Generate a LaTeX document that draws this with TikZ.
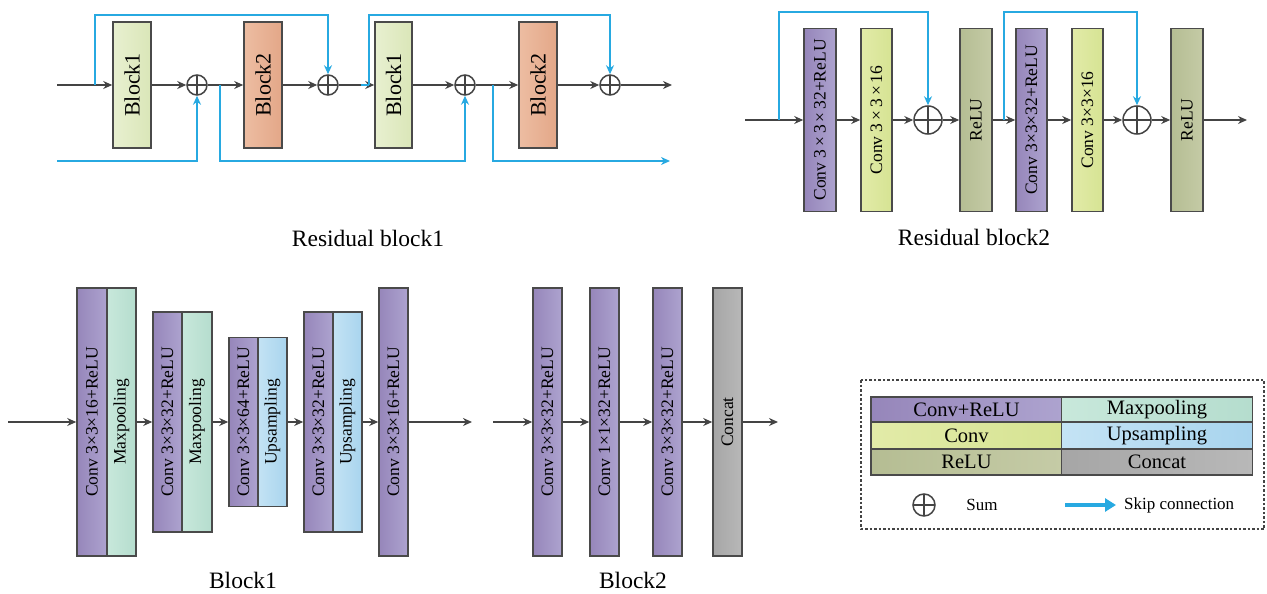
\documentclass[tikz,border=0pt]{standalone}
\usepackage{fontspec}
\setmainfont{Liberation Serif}
\usetikzlibrary{arrows.meta}

\definecolor{linec}{HTML}{444444}
\definecolor{boxc}{HTML}{4A4A4A}
\definecolor{skipc}{HTML}{27A9E1}
\definecolor{purpL}{HTML}{9686BA}
\definecolor{purpR}{HTML}{ADA3CF}
\definecolor{tealL}{HTML}{C8E8DB}
\definecolor{tealR}{HTML}{B5DDCE}
\definecolor{upL}{HTML}{C4E3F4}
\definecolor{upR}{HTML}{A8D4EE}
\definecolor{cnvL}{HTML}{E2EBA8}
\definecolor{cnvR}{HTML}{D6E393}
\definecolor{reluL}{HTML}{B5BD93}
\definecolor{reluR}{HTML}{C5CBA6}
\definecolor{catL}{HTML}{A6A6A6}
\definecolor{catR}{HTML}{B8B8B8}
\definecolor{bkaL}{HTML}{E8F0D0}
\definecolor{bkaR}{HTML}{DAE6B8}
\definecolor{bkbL}{HTML}{EDBDA2}
\definecolor{bkbR}{HTML}{E3A788}

\tikzset{
  blk/.style={draw=boxc, line width=1.6pt, inner sep=0pt, text=black,
    font=\fontsize{17.5}{17.5}\selectfont},
  purp/.style={blk, left color=purpL, right color=purpR},
  teal/.style={blk, left color=tealL, right color=tealR},
  upbox/.style={blk, left color=upL, right color=upR},
  cnv/.style={blk, left color=cnvL, right color=cnvR},
  relu/.style={blk, left color=reluL, right color=reluR},
  cat/.style={blk, left color=catL, right color=catR},
  bka/.style={blk, left color=bkaL, right color=bkaR, font=\fontsize{22}{22}\selectfont},
  bkb/.style={blk, left color=bkbL, right color=bkbR, font=\fontsize{22}{22}\selectfont},
  arr/.style={draw=linec, line width=1.7pt, -{Stealth[length=9pt,width=8pt]}},
  skip/.style={draw=skipc, line width=2.2pt},
  skiparr/.style={skip, -{Stealth[length=9pt,width=8pt]}},
  sumnode/.style={circle, draw=linec, line width=1.5pt, inner sep=0pt, minimum size=#1,
    path picture={\draw[linec, line width=1.3pt]
      (path picture bounding box.north) -- (path picture bounding box.south)
      (path picture bounding box.west) -- (path picture bounding box.east);}},
  caption/.style={font=\fontsize{23.5}{24}\selectfont, inner sep=0pt},
  legcell/.style={draw=boxc, line width=1.5pt, inner sep=0pt, minimum width=191,
    font=\fontsize{20.5}{21}\selectfont},
  legtext/.style={font=\fontsize{17}{17}\selectfont, inner sep=0pt},
}

\begin{document}
\begin{tikzpicture}[x=1pt, y=-1pt]
\useasboundingbox (0,0) rectangle (1267,594);

% ---------------- Residual block 1 ----------------
\coordinate (ra-in) at (57,85);
\node[bka, minimum width=38, minimum height=126] (ra-b1) at (132,85) {\rotatebox{90}{Block1}};
\node[sumnode=20] (ra-s1) at (197,85) {};
\node[bkb, minimum width=38, minimum height=126] (ra-b2) at (263,85) {\rotatebox{90}{Block2}};
\node[sumnode=20] (ra-s2) at (328,85) {};
\node[bka, minimum width=37, minimum height=126] (ra-b3) at (393.5,85) {\rotatebox{90}{Block1}};
\node[sumnode=20] (ra-s3) at (465,85) {};
\node[bkb, minimum width=38, minimum height=126] (ra-b4) at (538,85) {\rotatebox{90}{Block2}};
\node[sumnode=20] (ra-s4) at (610,85) {};
\coordinate (ra-out) at (672,85);

\draw[arr] (ra-in) -- (ra-b1.west);
\draw[arr] (ra-b1.east) -- (ra-s1.west);
\draw[arr] (ra-s1.east) -- (ra-b2.west);
\draw[arr] (ra-b2.east) -- (ra-s2.west);
\draw[arr] (ra-s2.east) -- (ra-b3.west);
\draw[arr] (ra-b3.east) -- (ra-s3.west);
\draw[arr] (ra-s3.east) -- (ra-b4.west);
\draw[arr] (ra-b4.east) -- (ra-s4.west);
\draw[arr] (ra-s4.east) -- (ra-out);

% skip connections over the blocks
\coordinate (ra-k1) at (95,85);
\coordinate (ra-k2a) at (361,85);
\coordinate (ra-k2) at (369,85);
\draw[skiparr] (ra-k1) -- (95,15) -| (ra-s2.north);
\draw[skip] (ra-k2a) -- (ra-k2);
\draw[skiparr] (ra-k2) -- (369,15) -| (ra-s4.north);

% lower skip paths
\coordinate (ra-l0) at (57,161);
\coordinate (ra-k3) at (220,85);
\coordinate (ra-k4) at (493,85);
\coordinate (ra-lout) at (670,161);
\draw[skiparr] (ra-l0) -| (ra-s1.south);
\draw[skiparr] (ra-k3) |- (300,161) -| (ra-s3.south);
\draw[skiparr] (ra-k4) |- (ra-lout);

\node[caption] (ra-cap) at (368,238) {Residual block1};

% ---------------- Residual block 2 ----------------
\coordinate (rb-in) at (745,120);
\node[purp, minimum width=32, minimum height=183] (rb-c1) at (820,120)
  {\rotatebox{90}{Conv 3\,×\,3\,×\,32+ReLU}};
\node[cnv, minimum width=31, minimum height=183] (rb-c2) at (876.5,120)
  {\rotatebox{90}{Conv 3\,×\,3\,×\,16}};
\node[sumnode=28] (rb-s1) at (928,120) {};
\node[relu, minimum width=32, minimum height=183] (rb-r1) at (976,120) {\rotatebox{90}{ReLU}};
\node[purp, minimum width=31, minimum height=183] (rb-c3) at (1031.5,120)
  {\rotatebox{90}{Conv 3×3×32+ReLU}};
\node[cnv, minimum width=31, minimum height=183] (rb-c4) at (1087.5,120)
  {\rotatebox{90}{Conv 3×3×16}};
\node[sumnode=28] (rb-s2) at (1137,120) {};
\node[relu, minimum width=32, minimum height=183] (rb-r2) at (1187,120) {\rotatebox{90}{ReLU}};
\coordinate (rb-out) at (1247,120);

\draw[arr] (rb-in) -- (rb-c1.west);
\draw[arr] (rb-c1.east) -- (rb-c2.west);
\draw[arr] (rb-c2.east) -- (rb-s1.west);
\draw[arr] (rb-s1.east) -- (rb-r1.west);
\draw[arr] (rb-r1.east) -- (rb-c3.west);
\draw[arr] (rb-c3.east) -- (rb-c4.west);
\draw[arr] (rb-c4.east) -- (rb-s2.west);
\draw[arr] (rb-s2.east) -- (rb-r2.west);
\draw[arr] (rb-r2.east) -- (rb-out);

\coordinate (rb-k1) at (779,120);
\coordinate (rb-k2) at (1004,120);
\draw[skiparr] (rb-k1) -- (779,12) -| (rb-s1.north);
\draw[skiparr] (rb-k2) -- (1004,12) -| (rb-s2.north);

\node[caption] (rb-cap) at (974,237) {Residual block2};

% ---------------- Block 1 ----------------
\coordinate (ba-in) at (8,422);
\node[purp, minimum width=30, minimum height=268] (ba-c1) at (92,422) {\rotatebox{90}{Conv 3×3×16+ReLU}};
\node[teal, minimum width=29, minimum height=268] (ba-p1) at (121.5,422) {\rotatebox{90}{Maxpooling}};
\node[purp, minimum width=29, minimum height=220] (ba-c2) at (167.5,422) {\rotatebox{90}{Conv 3×3×32+ReLU}};
\node[teal, minimum width=30, minimum height=220] (ba-p2) at (197,422) {\rotatebox{90}{Maxpooling}};
\node[purp, minimum width=29, minimum height=169] (ba-c3) at (243.5,422) {\rotatebox{90}{Conv 3×3×64+ReLU}};
\node[upbox, minimum width=29, minimum height=169] (ba-u3) at (272.5,422) {\rotatebox{90}{Upsampling}};
\node[purp, minimum width=29, minimum height=220] (ba-c4) at (318.5,422) {\rotatebox{90}{Conv 3×3×32+ReLU}};
\node[upbox, minimum width=29, minimum height=220] (ba-u4) at (347.5,422) {\rotatebox{90}{Upsampling}};
\node[purp, minimum width=29, minimum height=268] (ba-c5) at (393.5,422) {\rotatebox{90}{Conv 3×3×16+ReLU}};
\coordinate (ba-out) at (472,422);

\draw[arr] (ba-in) -- (ba-c1.west);
\draw[arr] (ba-p1.east) -- (ba-c2.west);
\draw[arr] (ba-p2.east) -- (ba-c3.west);
\draw[arr] (ba-u3.east) -- (ba-c4.west);
\draw[arr] (ba-u4.east) -- (ba-c5.west);
\draw[arr] (ba-c5.east) -- (ba-out);

\node[caption] (ba-cap) at (243,580) {Block1};

% ---------------- Block 2 ----------------
\coordinate (bb-in) at (493,422);
\node[purp, minimum width=29, minimum height=268] (bb-c1) at (547.5,422) {\rotatebox{90}{Conv 3×3×32+ReLU}};
\node[purp, minimum width=29, minimum height=268] (bb-c2) at (604.5,422) {\rotatebox{90}{Conv 1×1×32+ReLU}};
\node[purp, minimum width=29, minimum height=268] (bb-c3) at (667.5,422) {\rotatebox{90}{Conv 3×3×32+ReLU}};
\node[cat, minimum width=29, minimum height=268] (bb-k) at (727.5,422) {\rotatebox{90}{Concat}};
\coordinate (bb-out) at (778,422);

\draw[arr] (bb-in) -- (bb-c1.west);
\draw[arr] (bb-c1.east) -- (bb-c2.west);
\draw[arr] (bb-c2.east) -- (bb-c3.west);
\draw[arr] (bb-c3.east) -- (bb-k.west);
\draw[arr] (bb-k.east) -- (bb-out);

\node[caption] (bb-cap) at (633,580) {Block2};

% ---------------- Legend ----------------
\draw[linec, line width=1.2pt, dash pattern=on 2.5pt off 2pt] (861,380) rectangle (1264,529);
\node[legcell, minimum height=25, left color=purpL, right color=purpR] (lg-a) at (966.5,409.5) {Conv+ReLU};
\node[legcell, minimum height=25, left color=tealL, right color=tealR] (lg-b) at (1157,409.5) {Maxpooling};
\node[legcell, minimum height=27, left color=cnvL, right color=cnvR] (lg-c) at (966.5,435.5) {Conv};
\node[legcell, minimum height=27, left color=upL, right color=upR] (lg-d) at (1157,435.5) {Upsampling};
\node[legcell, minimum height=26, left color=reluL, right color=reluR] (lg-e) at (966.5,462) {ReLU};
\node[legcell, minimum height=26, left color=catL, right color=catR] (lg-f) at (1157,462) {Concat};

\node[sumnode=22] (lg-sum) at (924,505) {};
\node[legtext] (lg-sumt) at (982,505) {Sum};
\coordinate (lg-k0) at (1065,505);
\coordinate (lg-k1) at (1116,505);
\draw[draw=skipc, line width=4pt, -{Triangle[length=11pt,width=13pt]}] (lg-k0) -- (lg-k1);
\node[legtext, anchor=west] (lg-skipt) at (1124,505) {Skip connection};
\end{tikzpicture}
\end{document}
